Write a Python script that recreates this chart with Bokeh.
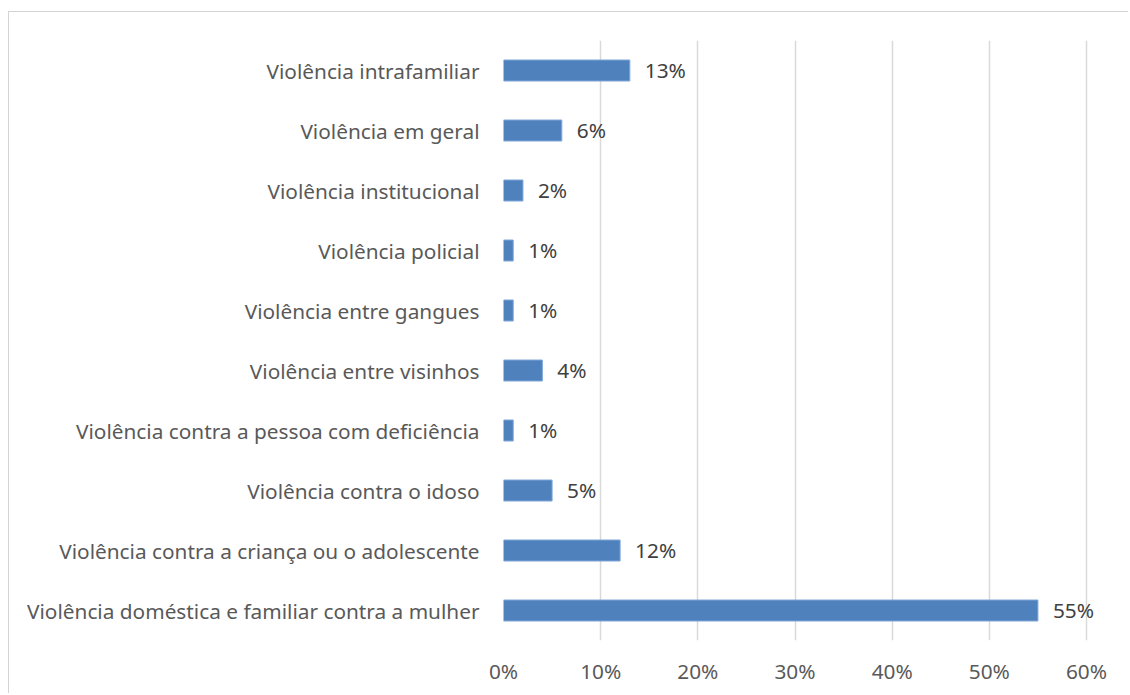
from bokeh.plotting import figure
from bokeh.models import FactorRange, Range1d, NumeralTickFormatter, FixedTicker, ColumnDataSource
from bokeh.core.properties import value
from bokeh.embed import file_html
from bokeh.resources import INLINE

categories = [
    "Violência doméstica e familiar contra a mulher",
    "Violência contra a criança ou o adolescente",
    "Violência contra o idoso",
    "Violência contra a pessoa com deficiência",
    "Violência entre visinhos",
    "Violência entre gangues",
    "Violência policial",
    "Violência institucional",
    "Violência em geral",
    "Violência intrafamiliar",
]
values_pct = [55, 12, 5, 1, 4, 1, 1, 2, 6, 13]
x_ticks = [0, 0.1, 0.2, 0.3, 0.4, 0.5, 0.6]

FONT = "Noto Sans"
FS = "20.8px"

src = ColumnDataSource(dict(
    cat=categories,
    val=[v / 100 for v in values_pct],
    lab=[f"{v}%" for v in values_pct],
))

# frame spans 0..0.6 over 583px; extend right so the last data label isn't clipped
x_end = 0.6 * 607 / 583

p = figure(width=1120, height=682, output_backend="svg", toolbar_location=None,
           y_range=FactorRange(factors=categories), x_range=Range1d(0, x_end),
           min_border_left=494, min_border_right=19, min_border_top=28, min_border_bottom=54,
           styles={"margin-left": "8px", "margin-top": "11px",
                   "border-left": "1px solid #D4D4D4", "border-top": "1px solid #D4D4D4"})
p.outline_line_color = None
p.background_fill_color = "white"
p.border_fill_color = "white"

p.hbar(y="cat", right="val", left=0, height=0.35, source=src,
       fill_color="#4F81BD", line_color="#7EA6D8", line_width=1)
p.text(x="val", y="cat", text="lab", source=src, x_offset=15, y_offset=-1,
       text_baseline="middle", text_align="left", text_font=value(FONT),
       text_font_size=FS, text_color="#404040")

p.xaxis.ticker = FixedTicker(ticks=x_ticks)
p.xaxis.formatter = NumeralTickFormatter(format="0%")
p.xaxis.axis_line_color = None
p.xaxis.major_tick_line_color = None
p.xaxis.minor_tick_line_color = None
p.xaxis.major_label_text_font = FONT
p.xaxis.major_label_text_font_size = FS
p.xaxis.major_label_text_color = "#595959"
p.xaxis.major_label_standoff = 10

p.yaxis.axis_line_color = None
p.yaxis.major_tick_line_color = None
p.yaxis.minor_tick_line_color = None
p.yaxis.major_label_text_font = FONT
p.yaxis.major_label_text_font_size = FS
p.yaxis.major_label_text_color = "#595959"
p.yaxis.major_label_standoff = 18

p.xgrid.grid_line_color = "#D9D9D9"
p.xgrid.grid_line_width = 1.5
p.ygrid.grid_line_color = None

open("out.html", "w").write(file_html(p, INLINE))
